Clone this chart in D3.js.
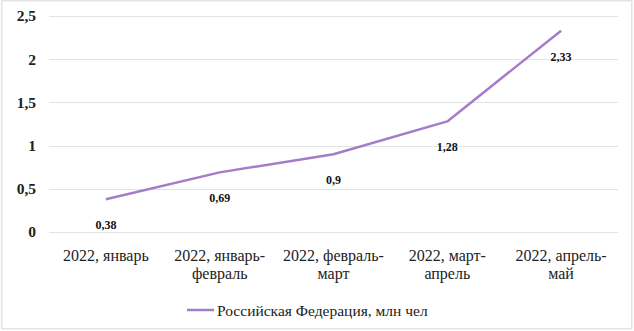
<!DOCTYPE html>
<html>
<head>
<meta charset="utf-8">
<script src="https://cdn.jsdelivr.net/npm/d3@7"></script>
<style>
  html, body { margin: 0; padding: 0; background: #fff; }
  #wrap { width: 634px; height: 331px; position: relative; }
  #wrap svg { position: absolute; left: 1px; top: 0; }
</style>
</head>
<body>
<div id="wrap">
<svg id="chart" width="632" height="330">
  <text x="-100" y="-100" font-family="Liberation Serif, Times New Roman, DejaVu Serif, serif" font-weight="bold">0</text>
  <text x="-100" y="-100" font-family="Liberation Serif, Times New Roman, DejaVu Serif, serif">0</text>
</svg>
</div>
<script>
// Periods (two-line category labels) and values, mln people
const categories = [
  ["2022, январь"],
  ["2022, январь-", "февраль"],
  ["2022, февраль-", "март"],
  ["2022, март-", "апрель"],
  ["2022, апрель-", "май"]
];
const values = [0.38, 0.69, 0.9, 1.28, 2.33];
const valueLabels = ["0,38", "0,69", "0,9", "1,28", "2,33"];
const yTicks = [0, 0.5, 1, 1.5, 2, 2.5];
const yTickLabels = ["0", "0,5", "1", "1,5", "2", "2,5"];
const seriesName = "Российская Федерация, млн чел";

const svg = d3.select("#chart");
// the font warm-up placeholders are not needed once the page is parsed
svg.selectAll("text").remove();

const FONT = "Liberation Serif, Times New Roman, DejaVu Serif, serif";
const plot = { left: 48, right: 617, top: 16, bottom: 232 };
const lineColor = "#a47cca";

// Outer frame
svg.append("rect")
  .attr("x", 0.75).attr("y", 0.75)
  .attr("width", 630).attr("height", 328)
  .attr("fill", "#fff").attr("stroke", "#e3e3e3").attr("stroke-width", 1.5);

const x = d3.scaleBand()
  .domain(d3.range(categories.length))
  .range([plot.left, plot.right]);

const y = d3.scaleLinear()
  .domain([0, 2.5])
  .range([plot.bottom, plot.top]);

// Horizontal gridlines
svg.append("g")
  .selectAll("line")
  .data(yTicks)
  .join("line")
  .attr("x1", plot.left).attr("x2", plot.right)
  .attr("y1", d => Math.round(y(d)) + 0.5)
  .attr("y2", d => Math.round(y(d)) + 0.5)
  .attr("stroke", "#e3e3e3").attr("stroke-width", 1);

// Y axis labels
const gy = svg.append("g")
  .attr("transform", "translate(35,0)")
  .call(d3.axisLeft(y)
    .tickValues(yTicks)
    .tickSize(0)
    .tickPadding(0)
    .tickFormat((d, i) => yTickLabels[i]));
gy.select(".domain").remove();
gy.attr("font-family", null).attr("font-size", null);
gy.selectAll("text")
  .attr("font-family", FONT)
  .attr("font-size", 15.5)
  .attr("font-weight", "bold")
  .attr("fill", "#222");

// X axis category labels (multi-line)
const gx = svg.append("g")
  .attr("transform", `translate(0,${plot.bottom})`)
  .call(d3.axisBottom(x).tickSize(0).tickFormat(() => ""));
gx.select(".domain").remove();
gx.attr("font-family", null).attr("font-size", null);
gx.selectAll(".tick text").each(function(d) {
  const t = d3.select(this)
    .attr("y", 0).attr("dy", null)
    .attr("font-family", FONT)
    .attr("font-size", 16)
    .attr("fill", "#222")
    .attr("text-anchor", "middle");
  categories[d].forEach((line, i) => {
    t.append("tspan")
      .attr("x", 0)
      .attr("y", 28.5 + i * 18)
      .text(line);
  });
});

// Series line
const line = d3.line()
  .x((d, i) => x(i) + x.bandwidth() / 2)
  .y(d => y(d));

svg.append("path")
  .datum(values)
  .attr("d", line)
  .attr("fill", "none")
  .attr("stroke", lineColor)
  .attr("stroke-width", 2.5)
  .attr("stroke-linejoin", "round");

// Data labels below the points
svg.append("g")
  .selectAll("text")
  .data(values)
  .join("text")
  .attr("x", (d, i) => x(i) + x.bandwidth() / 2)
  .attr("y", d => y(d) + 30)
  .attr("text-anchor", "middle")
  .attr("font-family", FONT)
  .attr("font-size", 12)
  .attr("font-weight", "bold")
  .attr("fill", "#111")
  .text((d, i) => valueLabels[i]);

// Legend
const lg = svg.append("g").attr("transform", "translate(186,310)");
lg.append("line")
  .attr("x1", 0).attr("x2", 27).attr("y1", 0).attr("y2", 0)
  .attr("stroke", lineColor).attr("stroke-width", 2.5);
lg.append("text")
  .attr("x", 30).attr("y", 5.5)
  .attr("font-family", FONT)
  .attr("font-size", 15.5)
  .attr("fill", "#222")
  .text(seriesName);
</script>
</body>
</html>
